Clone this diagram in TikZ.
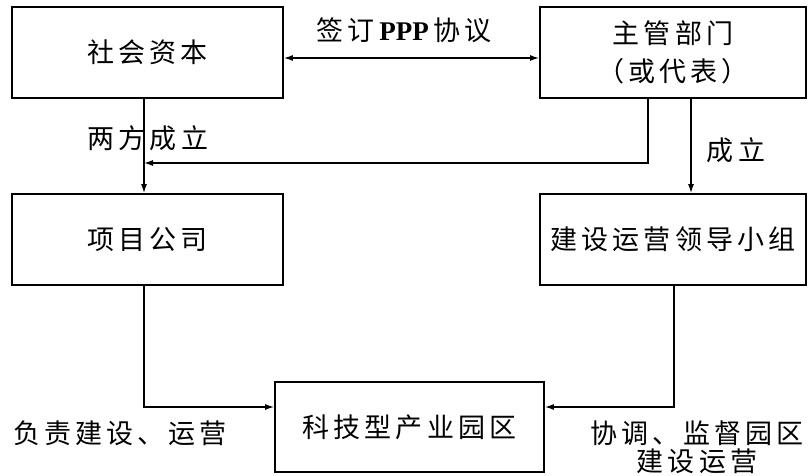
\documentclass[tikz,border=0pt]{standalone}
\usepackage{fontspec}
\setmainfont{Liberation Serif}
\newfontfamily\cjk[LetterSpace=15]{Noto Sans CJK SC}
\usetikzlibrary{arrows.meta}
\begin{document}
\begin{tikzpicture}[x=1pt,y=-1pt,
  every node/.style={font=\cjk\fontsize{27}{38}\selectfont},
  box/.style={draw, line width=1.7pt, inner sep=0pt, align=center, minimum height=91pt},
  lbl/.style={inner sep=0pt, align=center},
  conn/.style={line width=1.4pt},
  arr/.style={conn, -{Latex[length=9pt,width=6pt]}},
  darr/.style={conn, {Latex[length=9pt,width=6pt]}-{Latex[length=9pt,width=6pt]}}]
\useasboundingbox (0,0) rectangle (808,476);
\clip (0,0) rectangle (808,476);
\fill[white] (0,0) rectangle (808,476);
% boxes
\node[box, minimum width=271pt] (sc) at (147.5,52.5) {社会资本};
\node[box, minimum width=266pt] (zg) at (673,52.5) {主管部门\\（或代表）};
\node[box, minimum width=271pt] (xm) at (147.5,239.5) {项目公司};
\node[box, minimum width=266pt] (js) at (673,239.5) {建设运营领导小组};
\node[box, minimum width=269pt, minimum height=90pt] (kj) at (409.5,427) {科技型产业园区};
% coordinates
\coordinate (m1) at (144,163);
% connectors
\draw[darr] ([yshift=-5.5pt]sc.east) -- ([yshift=-5.5pt]zg.west);
\draw[arr] ([xshift=-3.5pt]sc.south) -- ([xshift=-3.5pt]xm.north);
\draw[arr] ([xshift=-25pt]zg.south) |- (m1);
\draw[arr] ([xshift=18pt]zg.south) -- ([xshift=18pt]js.north);
\draw[arr] ([xshift=-3.5pt]xm.south) |- ([yshift=20pt]kj.west);
\draw[arr] ([xshift=1pt]js.south) |- ([yshift=20pt]kj.east);
% labels
\node[lbl] (l1) at (404,30) {签订\,{\rmfamily\bfseries PPP}\,协议};
\node[lbl] (l2) at (148,138) {两方成立};
\node[lbl] (l3) at (736,150) {成立};
\node[lbl] (l4) at (120,433) {负责建设、运营};
\node[lbl] (l5) at (697,447) {协调、监督园区\\[-10pt]建设运营};
\end{tikzpicture}
\end{document}
